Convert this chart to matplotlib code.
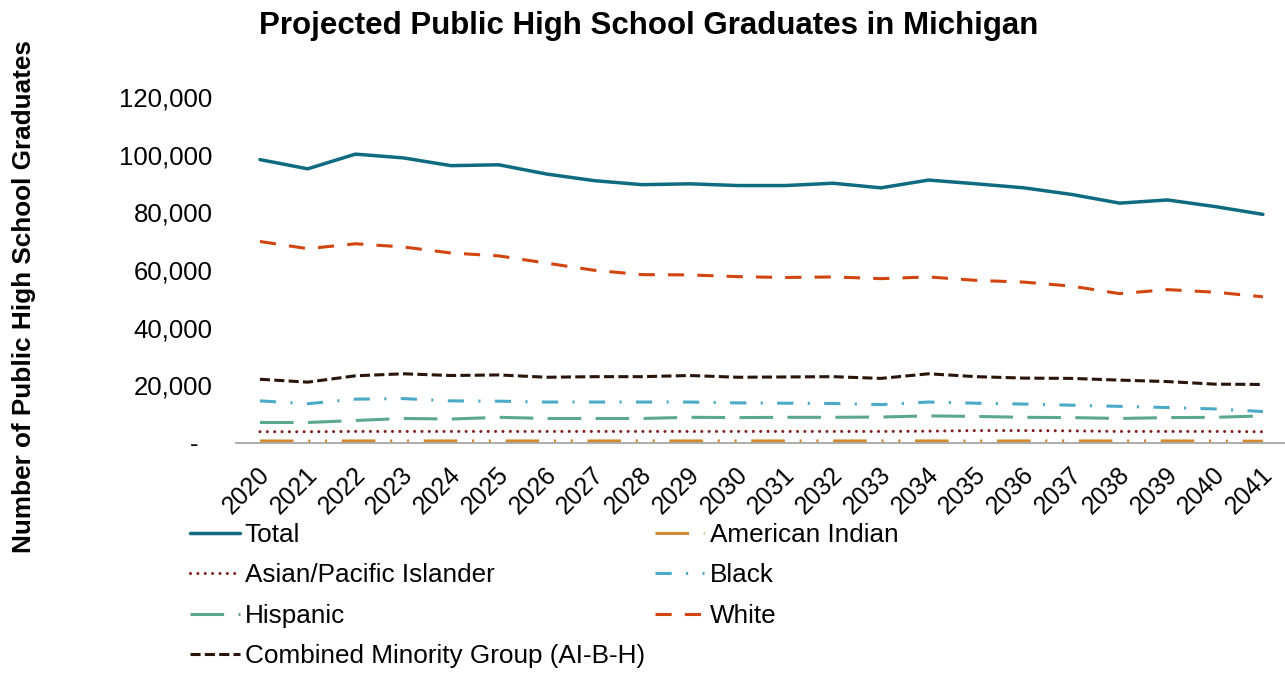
"""Projected public high school graduates in Michigan, 2020-2041, by group."""

import matplotlib
matplotlib.use("Agg")
import matplotlib.pyplot as plt
from matplotlib.ticker import FuncFormatter
from matplotlib.transforms import ScaledTranslation

plt.rcParams["font.family"] = ["Liberation Sans", "DejaVu Sans"]

years = [str(y) for y in range(2020, 2042)]

total = [98300, 95100, 100200, 98900, 96200, 96500, 93300, 91000, 89600, 89900, 89300,
         89300, 90100, 88500, 91200, 89900, 88500, 86200, 83200, 84300, 82000, 79300]
am_indian = [700, 650, 700, 700, 700, 700, 700, 700, 700, 700, 700,
             700, 700, 700, 700, 650, 700, 700, 700, 700, 650, 600]
asian = [3900, 3900, 4000, 4000, 4000, 4000, 4000, 4000, 4000, 4000, 4000,
         4000, 4000, 4000, 4100, 4300, 4300, 4200, 4000, 4000, 4000, 3900]
black = [14600, 13600, 15200, 15400, 14600, 14500, 14200, 14200, 14200, 14200, 13900,
         13800, 13700, 13300, 14200, 13800, 13500, 13100, 12700, 12300, 11800, 10900]
hispanic = [7100, 7100, 7800, 8500, 8300, 8900, 8500, 8500, 8500, 8900, 8800,
            8900, 8900, 9000, 9400, 9200, 8900, 8800, 8500, 8800, 8900, 9400]
white = [69900, 67400, 69100, 68000, 65900, 64900, 62400, 59900, 58400, 58300, 57700,
         57400, 57600, 57000, 57600, 56400, 55800, 54400, 51800, 53200, 52300, 50700]
combined = [22100, 21100, 23300, 24000, 23400, 23600, 22800, 23000, 23000, 23400, 22800,
            22900, 23000, 22400, 24000, 23000, 22500, 22400, 21800, 21300, 20400, 20300]

fig = plt.figure(figsize=(12.85, 6.73), dpi=100)
ax = fig.add_axes([0.1837, 0.3418, 0.8177, 0.514])
x = range(len(years))

# (label, values, color, linestyle, linewidth, capstyle)
series = [
    ("Total", total, "#0E6B80", "-", 2.5, "butt"),
    ("American Indian", am_indian, "#D38A2E", (0, (11, 4.8, 0.7, 4.8, 0.7, 4.8)), 2.2, "butt"),
    ("Asian/Pacific Islander", asian, "#841F1F", (0, (0.01, 2.4)), 2.2, "round"),
    ("Black", black, "#4BAAC8", (0, (5.3, 4.7, 0.7, 4.7)), 2.2, "butt"),
    ("Hispanic", hispanic, "#5BA88E", (0, (11, 4.7)), 2.2, "butt"),
    ("White", white, "#D2450F", (0, (5.3, 4.3)), 2.2, "butt"),
    ("Combined Minority Group (AI-B-H)", combined, "#2B1408", (0, (3.3, 1.4)), 2.2, "butt"),
]

lines = {}
for label, vals, color, ls, lw, cap in series:
    (ln,) = ax.plot(x, vals, color=color, linestyle=ls, linewidth=lw, label=label,
                    dash_capstyle=cap, solid_capstyle="round")
    lines[label] = ln

ax.set_xlim(-0.5, len(years) - 0.5)
ax.set_ylim(0, 120000)
ax.set_yticks(range(0, 120001, 20000))
ax.yaxis.set_major_formatter(FuncFormatter(lambda v, p: "-  " if v == 0 else f"{v:,.0f}"))
ax.set_xticks(list(x))
ax.set_xticklabels(years, rotation=45, ha="right", va="center", rotation_mode="anchor")
ax.tick_params(axis="y", length=0, pad=17, labelsize=18.5)
ax.tick_params(axis="x", length=0, pad=20, labelsize=17.8)
# nudge the rotated year labels a little to the right
shift = ScaledTranslation(6 / 100, 0, fig.dpi_scale_trans)
for lbl in ax.get_xticklabels():
    lbl.set_transform(lbl.get_transform() + shift)

for side in ("top", "right", "left"):
    ax.spines[side].set_visible(False)
ax.spines["bottom"].set_color("#A6A6A6")
ax.spines["bottom"].set_linewidth(1.3)

fig.text(0.5047, 0.962, "Projected Public High School Graduates in Michigan",
         ha="center", va="center", fontsize=22.5, fontweight="bold")
fig.text(0.019, 0.559, "Number of Public High School Graduates", rotation=90,
         ha="center", va="center", fontsize=18.8, fontweight="bold")

# two columns filled row-wise
order = ["Total", "Asian/Pacific Islander", "Hispanic", "Combined Minority Group (AI-B-H)",
         "American Indian", "Black", "White"]
fig.legend([lines[k] for k in order], order, loc="upper left",
           bbox_to_anchor=(190 / 1285, 1 - 523 / 673), ncol=2, frameon=False,
           fontsize=18.8, handlelength=1.9, handletextpad=0.2, columnspacing=0.38,
           labelspacing=0.63, borderpad=0, borderaxespad=0)

fig.savefig("out.png", dpi=100)
